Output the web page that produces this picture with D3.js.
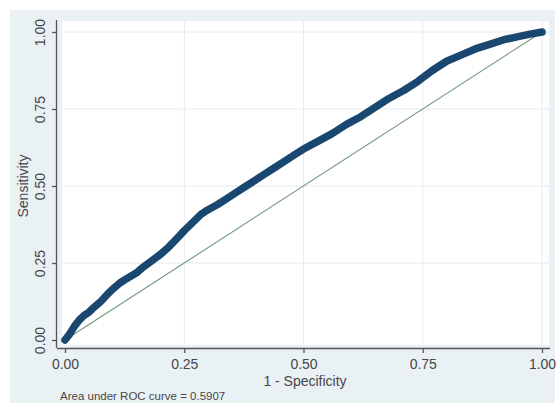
<!DOCTYPE html>
<html>
<head>
<meta charset="utf-8">
<title>ROC curve</title>
<script src="https://cdn.jsdelivr.net/npm/d3@7"></script>
<style>
    body { margin: 0; background: #fff; }
    text { font-family: "Liberation Sans", Arial, sans-serif; fill: #474747; }
    .tick text { font-size: 14px; }
    .axis path, .axis line { stroke: #555; stroke-width: 1.3px; }
    .grid line { stroke: #e4ecf0; stroke-width: 1px; }
</style>
</head>
<body>
<script>
    // 1 - specificity / sensitivity
    var fpr = [0, 0.01, 0.02, 0.03, 0.04, 0.05, 0.06, 0.075, 0.09, 0.1, 0.115, 0.13, 0.15, 0.165,
        0.18, 0.2, 0.215, 0.235, 0.25, 0.27, 0.285, 0.3, 0.32, 0.34, 0.36, 0.38, 0.4, 0.42, 0.44,
        0.46, 0.48, 0.5, 0.53, 0.56, 0.59, 0.62, 0.65, 0.68, 0.71, 0.74, 0.77, 0.8, 0.83, 0.86,
        0.89, 0.92, 0.95, 0.975, 1];
    var tpr = [0, 0.02, 0.045, 0.065, 0.08, 0.09, 0.105, 0.125, 0.15, 0.165, 0.185, 0.2, 0.218, 0.238,
        0.255, 0.278, 0.298, 0.33, 0.355, 0.385, 0.408, 0.423, 0.44, 0.46, 0.48, 0.5, 0.52, 0.54, 0.56,
        0.58, 0.6, 0.62, 0.645, 0.67, 0.7, 0.725, 0.755, 0.785, 0.81, 0.84, 0.875, 0.905, 0.925, 0.945,
        0.96, 0.975, 0.985, 0.993, 1];
    var ticks = [0, 0.25, 0.5, 0.75, 1];
    var auc = "0.5907";

    var width = 558, height = 414;

    var svg = d3.select("body").append("svg")
        .attr("width", width)
        .attr("height", height);

    // graph region + plot region
    svg.append("rect")
        .attr("x", 10).attr("y", 10)
        .attr("width", 545).attr("height", 393)
        .attr("fill", "#eaf1f4");
    svg.append("rect")
        .attr("x", 62).attr("y", 21)
        .attr("width", 487).attr("height", 324)
        .attr("fill", "#fff");

    var x = d3.scaleLinear().domain([0, 1]).range([65, 542]);
    var y = d3.scaleLinear().domain([0, 1]).range([340, 32]);

    // grid
    var grid = svg.append("g").attr("class", "grid");
    grid.selectAll(".gx").data(ticks.slice(1)).enter().append("line")
        .attr("x1", function (d) { return x(d); })
        .attr("x2", function (d) { return x(d); })
        .attr("y1", 21).attr("y2", 345);
    grid.selectAll(".gy").data(ticks.slice(1)).enter().append("line")
        .attr("x1", 62).attr("x2", 549)
        .attr("y1", function (d) { return y(d); })
        .attr("y2", function (d) { return y(d); });

    var fmt = d3.format(".2f");

    // axes
    var xAxis = svg.append("g")
        .attr("class", "axis")
        .attr("transform", "translate(0,348)")
        .call(d3.axisBottom(x).tickValues(ticks).tickFormat(fmt).tickSizeOuter(0).tickSize(5).tickPadding(6));
    xAxis.select(".domain").attr("d", "M57,0.5H550");

    var yAxis = svg.append("g")
        .attr("class", "axis")
        .attr("transform", "translate(57,0)")
        .call(d3.axisLeft(y).tickValues(ticks).tickFormat(fmt).tickSizeOuter(0).tickSize(5));
    yAxis.select(".domain").attr("d", "M-0.5,20V348");
    yAxis.selectAll(".tick text")
        .attr("transform", "rotate(-90)")
        .attr("x", 0).attr("y", -12)
        .attr("dy", "0")
        .attr("text-anchor", "middle");

    // reference line
    svg.append("line")
        .attr("x1", x(0)).attr("y1", y(0))
        .attr("x2", x(1)).attr("y2", y(1))
        .attr("stroke", "#6f9a78")
        .attr("stroke-width", 1.1);

    // ROC curve
    var pts = fpr.map(function (d, i) { return [d, tpr[i]]; });
    svg.append("path")
        .datum(pts)
        .attr("fill", "none")
        .attr("stroke", "#1a476f")
        .attr("stroke-width", 7.5)
        .attr("stroke-linejoin", "round")
        .attr("stroke-linecap", "round")
        .attr("d", d3.line()
            .x(function (d) { return x(d[0]); })
            .y(function (d) { return y(d[1]); }));

    // titles
    svg.append("text")
        .attr("x", 305).attr("y", 386)
        .attr("text-anchor", "middle")
        .style("font-size", "14px")
        .text("1 - Specificity");
    svg.append("text")
        .attr("transform", "translate(28,186) rotate(-90)")
        .attr("text-anchor", "middle")
        .style("font-size", "14px")
        .text("Sensitivity");
    svg.append("text")
        .attr("x", 60).attr("y", 400)
        .style("font-size", "11.5px")
        .text("Area under ROC curve = " + auc);
</script>
</body>
</html>
